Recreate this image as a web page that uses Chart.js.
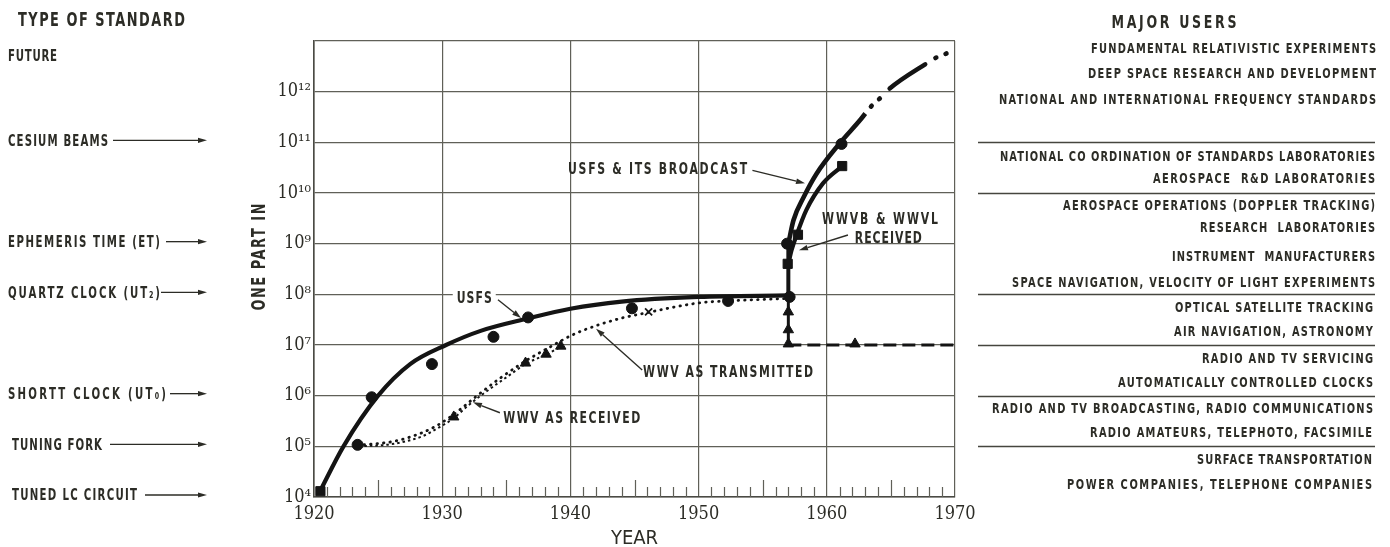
<!DOCTYPE html>
<html>
<head>
<meta charset="utf-8">
<script src="https://cdn.jsdelivr.net/npm/chart.js@4.4.1/dist/chart.umd.min.js"></script>
<style>
  html, body { margin: 0; padding: 0; background: #ffffff; }
  #wrap { position: relative; width: 1390px; height: 547px; background: #ffffff; }
  canvas { display: block; }
</style>
</head>
<body>
<div id="wrap"><canvas id="c" width="1390" height="547"></canvas></div>
<script>
// ---------------- DATA ----------------
const xTickValues = [1920, 1930, 1940, 1950, 1960, 1970];
const xTickLabels = ['1920', '1930', '1940', '1950', '1960', '1970'];
const yTickValues = [1e4, 1e5, 1e6, 1e7, 1e8, 1e9, 1e10, 1e11, 1e12, 1e13];
const yTickLabels = ['10⁴', '10⁵', '10⁶', '10⁷', '10⁸', '10⁹', '10¹⁰', '10¹¹', '10¹²', ''];

// USFS (solid curve)
const usfsYears  = [1920.4, 1922.3, 1925.0, 1927.5, 1930.3, 1933.0, 1936.6, 1940.0, 1944.0, 1950.0, 1957.0];
const usfsValues = [1.2e4, 1.0e5, 1.0e6, 4.2e6, 1.0e7, 1.9e7, 3.3e7, 5.2e7, 7.2e7, 8.9e7, 9.5e7];
// USFS jump in 1957
const usfsJumpYears  = [1957.0, 1957.0];
const usfsJumpValues = [9.5e7, 1.0e9];
// USFS & its broadcast
const broadcastYears  = [1957.0, 1957.4, 1958.2, 1959.2, 1961.0, 1962.6, 1963.0];
const broadcastValues = [1.0e9, 2.9e9, 8.3e9, 2.4e10, 9.5e10, 2.75e11, 3.7e11];
// Future projection
const futureYears  = [1963.0, 1963.45, 1964.1, 1964.9, 1967.7, 1968.6, 1969.4];
const futureValues = [3.7e11, 5.1e11, 7.2e11, 1.15e12, 3.5e12, 4.8e12, 5.75e12];
// WWVB & WWVL received
const wwvbYears  = [1957.0, 1957.25, 1957.65, 1958.4, 1959.7, 1961.2];
const wwvbValues = [4.0e8, 7.4e8, 1.5e9, 4.6e9, 1.55e10, 3.4e10];
// WWV as transmitted (dotted)
const transmittedYears  = [1923.4, 1926.2, 1928.3, 1929.5, 1930.5, 1931.5, 1932.5, 1934.5, 1936.6, 1938.4, 1940.2, 1942.1, 1944.0, 1945.5, 1950.1, 1952.3, 1957.0];
const transmittedValues = [1.05e5, 1.25e5, 1.8e5, 2.5e5, 3.6e5, 5.6e5, 9.0e5, 2.2e6, 5.0e6, 9.1e6, 1.6e7, 2.45e7, 3.4e7, 4.1e7, 6.8e7, 7.4e7, 8.3e7];
// WWV as received (short dashes)
const receivedYears  = [1923.5, 1926.0, 1928.5, 1929.8, 1930.9, 1932.0, 1933.0, 1935.0, 1936.5, 1938.1, 1939.3];
const receivedValues = [1.0e5, 1.1e5, 1.6e5, 2.4e5, 3.6e5, 6.3e5, 1.0e6, 2.3e6, 4.2e6, 6.5e6, 9.3e6];
// WWV as received after 1957
const receivedStepYears  = [1957.0, 1957.0];
const receivedStepValues = [1.0e7, 9.0e7];
const receivedLevelYears  = [1957.0, 1970.0];
const receivedLevelValues = [1.0e7, 1.0e7];

// Marker points
const circleYears  = [1923.4, 1924.5, 1929.2, 1934.0, 1936.7, 1944.8, 1952.3, 1957.1, 1956.9, 1961.15];
const circleValues = [1.07e5, 9.3e5, 4.2e6, 1.45e7, 3.5e7, 5.3e7, 7.4e7, 8.9e7, 1.0e9, 9.3e10];
const squareYears  = [1920.5, 1956.95, 1957.75, 1961.2];
const squareValues = [1.3e4, 4.0e8, 1.5e9, 3.4e10];
const triangleYears  = [1930.9, 1936.5, 1938.1, 1939.25, 1957.0, 1957.0, 1957.0, 1962.2];
const triangleValues = [3.8e5, 4.4e6, 6.6e6, 9.5e6, 1.05e7, 2.0e7, 4.5e7, 1.05e7];
const crossYears  = [1946.1];
const crossValues = [4.5e7];

// ---------------- STYLE ----------------
const INK = '#2c2c26';
const LINE = '#141414';
const GRID = '#606058';
const SANS = "'DejaVu Sans', 'Liberation Sans', sans-serif";
const COND = "'DejaVu Sans Condensed', 'Liberation Sans Narrow', 'Roboto Condensed', 'DejaVu Sans', sans-serif";
const SERIF = "'DejaVu Serif Condensed', 'Liberation Serif', 'DejaVu Serif', serif";
const SX = 0.68;

const pts = (xs, ys) => xs.map((x, i) => ({ x: x, y: ys[i] }));

function lineSet(label, xs, ys, opts) {
  return Object.assign({
    label: label,
    data: pts(xs, ys),
    showLine: true,
    borderColor: LINE,
    backgroundColor: LINE,
    borderWidth: 4,
    pointRadius: 0,
    pointHoverRadius: 0,
    fill: false,
    cubicInterpolationMode: 'monotone',
    order: 2
  }, opts || {});
}
function markerSet(label, xs, ys, style, radius, opts) {
  return Object.assign({
    label: label,
    data: pts(xs, ys),
    showLine: false,
    pointStyle: style,
    pointRadius: radius,
    pointHoverRadius: radius,
    backgroundColor: LINE,
    borderColor: LINE,
    borderWidth: 1,
    clip: false,
    order: 0
  }, opts || {});
}

// ---------------- TEXT HELPERS ----------------
function fitText(ctx, str, x, y, size, width, align, rotate) {
  ctx.save();
  ctx.font = 'bold ' + size + 'px ' + SANS;
  ctx.fillStyle = INK;
  ctx.textBaseline = 'alphabetic';
  ctx.textAlign = 'left';
  const hasLS = ('letterSpacing' in ctx);
  if (hasLS) ctx.letterSpacing = '0px';
  const nat = ctx.measureText(str).width * SX;
  const n = Array.from(str).length;
  const gap = n > 1 ? (width - nat) / (n - 1) : 0;
  const off = align === 'right' ? -width : (align === 'center' ? -width / 2 : 0);
  ctx.translate(x, y);
  if (rotate) ctx.rotate(rotate);
  ctx.translate(off, size * 0.365);
  ctx.scale(SX, 1);
  if (hasLS) {
    ctx.letterSpacing = (gap / SX) + 'px';
    ctx.fillText(str, 0, 0);
  } else {
    ctx.fillText(str, 0, 0, width / SX);
  }
  ctx.restore();
}
function arrow(ctx, x0, y0, x1, y1, head, half, lw) {
  ctx.save();
  ctx.strokeStyle = INK;
  ctx.fillStyle = INK;
  ctx.lineWidth = lw || 1.3;
  const ang = Math.atan2(y1 - y0, x1 - x0);
  const bx = x1 - Math.cos(ang) * head, by = y1 - Math.sin(ang) * head;
  ctx.beginPath();
  ctx.moveTo(x0, y0);
  ctx.lineTo(bx, by);
  ctx.stroke();
  ctx.beginPath();
  ctx.moveTo(x1, y1);
  ctx.lineTo(bx - Math.sin(ang) * half, by + Math.cos(ang) * half);
  ctx.lineTo(bx + Math.sin(ang) * half, by - Math.cos(ang) * half);
  ctx.closePath();
  ctx.fill();
  ctx.restore();
}

// ---------------- ANNOTATION LAYOUT ----------------
const leftItems = [
  { t: 'CESIUM BEAMS', v: 1e11, x: 8, w: 100, a0: 113 },
  { t: 'EPHEMERIS TIME (ET)', v: 1e9, x: 8, w: 152, a0: 166 },
  { t: 'QUARTZ CLOCK (UT₂)', v: 1e8, x: 8, w: 152, a0: 161 },
  { t: 'SHORTT CLOCK (UT₀)', v: 1e6, x: 8, w: 158, a0: 170 },
  { t: 'TUNING FORK', v: 1e5, x: 12, w: 90, a0: 110 },
  { t: 'TUNED LC CIRCUIT', v: 1e4, x: 12, w: 125, a0: 145 }
];
const rightItems = [
  { y: 48,  r: 1376, w: 285, t: 'FUNDAMENTAL RELATIVISTIC EXPERIMENTS' },
  { y: 72.5, r: 1376, w: 288, t: 'DEEP SPACE RESEARCH AND DEVELOPMENT' },
  { y: 99,  r: 1376, w: 377, t: 'NATIONAL AND INTERNATIONAL FREQUENCY STANDARDS' },
  { y: 156, r: 1375, w: 375, t: 'NATIONAL CO ORDINATION OF STANDARDS LABORATORIES' },
  { y: 178, r: 1375, w: 222, t: 'AEROSPACE  R&D LABORATORIES' },
  { y: 205, r: 1375, w: 312, t: 'AEROSPACE OPERATIONS (DOPPLER TRACKING)' },
  { y: 227, r: 1375, w: 175, t: 'RESEARCH  LABORATORIES' },
  { y: 256, r: 1375, w: 203, t: 'INSTRUMENT  MANUFACTURERS' },
  { y: 282, r: 1375, w: 363, t: 'SPACE NAVIGATION, VELOCITY OF LIGHT EXPERIMENTS' },
  { y: 307, r: 1373, w: 198, t: 'OPTICAL SATELLITE TRACKING' },
  { y: 331, r: 1373, w: 199, t: 'AIR NAVIGATION, ASTRONOMY' },
  { y: 358, r: 1373, w: 171, t: 'RADIO AND TV SERVICING' },
  { y: 382, r: 1373, w: 255, t: 'AUTOMATICALLY CONTROLLED CLOCKS' },
  { y: 408, r: 1373, w: 381, t: 'RADIO AND TV BROADCASTING, RADIO COMMUNICATIONS' },
  { y: 432, r: 1372, w: 282, t: 'RADIO AMATEURS, TELEPHOTO, FACSIMILE' },
  { y: 459, r: 1372, w: 175, t: 'SURFACE TRANSPORTATION' },
  { y: 484, r: 1372, w: 305, t: 'POWER COMPANIES, TELEPHONE COMPANIES' }
];
const separatorValues = [1e11, 1e10, 1e8, 1e7, 1e6, 1e5];

const chartLabels = [
  { t: 'USFS', x: 1932.5, y: 8.7e7, w: 35, bg: true, from: [1934.35, 7.8e7], to: [1936.15, 3.4e7] },
  { t: 'USFS & ITS BROADCAST', x: 1946.8, y: 3.1e10, w: 179, from: [1954.2, 2.8e10], to: [1958.3, 1.55e10] },
  { t: 'WWVB & WWVL', x: 1964.15, y: 3.16e9, w: 116 },
  { t: 'RECEIVED', x: 1964.8, y: 1.35e9, w: 67, from: [1961.65, 1.48e9], to: [1957.83, 7.4e8] },
  { t: 'WWV AS TRANSMITTED', x: 1952.3, y: 3.1e6, w: 170, from: [1945.6, 3.2e6], to: [1942.0, 2.1e7] },
  { t: 'WWV AS RECEIVED', x: 1940.1, y: 3.8e5, w: 137, from: [1934.5, 4.6e5], to: [1932.4, 7.4e5] }
];

const annotationPlugin = {
  id: 'annotations',
  beforeDatasetsDraw(chart) {
    const ctx = chart.ctx, xs = chart.scales.x, area = chart.chartArea;
    ctx.save();
    ctx.strokeStyle = GRID;
    ctx.lineWidth = 1.2;
    for (let yr = 1921; yr < 1970; yr++) {
      if (yr % 10 === 0) continue;
      const len = (yr % 5 === 0) ? 17 : 10;
      const px = Math.round(xs.getPixelForValue(yr)) + 0.5;
      ctx.beginPath();
      ctx.moveTo(px, area.bottom);
      ctx.lineTo(px, area.bottom - len);
      ctx.stroke();
    }
    ctx.restore();
  },
  afterDraw(chart) {
    const ctx = chart.ctx, xs = chart.scales.x, ys = chart.scales.y;
    const px = v => xs.getPixelForValue(v), py = v => ys.getPixelForValue(v);

    // Y axis title
    fitText(ctx, 'ONE PART IN', 258, 257, 19, 107, 'center', -Math.PI / 2);

    // Left panel
    fitText(ctx, 'TYPE OF STANDARD', 18, 19.5, 19, 167, 'left');
    fitText(ctx, 'FUTURE', 8, py(1e12) - 36, 15, 49, 'left');
    leftItems.forEach(it => {
      const y = py(it.v) - 2;
      fitText(ctx, it.t, it.x, y, 15, it.w, 'left');
      arrow(ctx, it.a0, y, 207, y, 9, 2.6, 1.3);
    });

    // Right panel
    fitText(ctx, 'MAJOR USERS', 1174, 21.5, 18.5, 125, 'center');
    rightItems.forEach(it => fitText(ctx, it.t, it.r, it.y, 14.5, it.w, 'right'));
    ctx.save();
    ctx.strokeStyle = '#45453f';
    ctx.lineWidth = 1.5;
    separatorValues.forEach(v => {
      const y = Math.round(py(v)) + 0.5;
      ctx.beginPath();
      ctx.moveTo(978, y);
      ctx.lineTo(1375, y);
      ctx.stroke();
    });
    ctx.restore();

    // Labels inside the plot
    chartLabels.forEach(l => {
      const cx = px(l.x), cy = py(l.y);
      if (l.bg) {
        ctx.save();
        ctx.fillStyle = '#ffffff';
        ctx.fillRect(cx - l.w / 2 - 4, cy - 8, l.w + 8, 16);
        ctx.restore();
      }
      fitText(ctx, l.t, cx, cy, 16, l.w, 'center');
      if (l.from) {
        arrow(ctx, px(l.from[0]), py(l.from[1]), px(l.to[0]), py(l.to[1]), 9, 2.8, 1.4);
      }
    });
  }
};

// ---------------- CHART ----------------
const ctx = document.getElementById('c').getContext('2d');
new Chart(ctx, {
  type: 'scatter',
  data: {
    datasets: [
      markerSet('USFS points', circleYears, circleValues, 'circle', 5.5),
      markerSet('Squares', squareYears, squareValues, 'rect', 6.5),
      markerSet('WWV received points', triangleYears, triangleValues, 'triangle', 6),
      markerSet('Cross', crossYears, crossValues, 'crossRot', 5, { borderWidth: 1.8, backgroundColor: 'transparent' }),
      lineSet('USFS', usfsYears, usfsValues, { borderWidth: 4.2 }),
      lineSet('USFS 1957', usfsJumpYears, usfsJumpValues, { borderWidth: 4, cubicInterpolationMode: 'default', tension: 0 }),
      lineSet('USFS & its broadcast', broadcastYears, broadcastValues, { borderWidth: 4.6 }),
      lineSet('Future', futureYears, futureValues, {
        borderWidth: 4.6, borderCapStyle: 'round',
        borderDash: [1, 10, 1, 14, 43, 12], borderDashOffset: 72
      }),
      lineSet('WWVB & WWVL received', wwvbYears, wwvbValues, { borderWidth: 4.2 }),
      lineSet('WWV as transmitted', transmittedYears, transmittedValues, {
        borderWidth: 2.8, borderCapStyle: 'round', borderDash: [0.5, 6]
      }),
      lineSet('WWV as received', receivedYears, receivedValues, {
        borderWidth: 2, borderDash: [2.5, 3]
      }),
      lineSet('WWV received 1957', receivedStepYears, receivedStepValues, {
        borderWidth: 3, cubicInterpolationMode: 'default', tension: 0
      }),
      lineSet('WWV received level', receivedLevelYears, receivedLevelValues, {
        borderWidth: 2.8, borderDash: [13, 6], cubicInterpolationMode: 'default', tension: 0
      })
    ]
  },
  options: {
    responsive: false,
    animation: false,
    devicePixelRatio: 1,
    layout: { padding: { left: 248, top: 41, right: 435, bottom: 0 } },
    plugins: {
      legend: { display: false },
      tooltip: { enabled: false }
    },
    scales: {
      x: {
        type: 'linear',
        position: 'bottom',
        min: 1920,
        max: 1970,
        afterFit: s => { s.height = 50; },
        afterBuildTicks: s => { s.ticks = xTickValues.map(v => ({ value: v })); },
        ticks: {
          autoSkip: false,
          maxRotation: 0,
          color: INK,
          padding: 7,
          font: { family: SERIF, size: 18 },
          callback: v => { const i = xTickValues.indexOf(v); return i >= 0 ? xTickLabels[i] : ''; }
        },
        grid: { color: GRID, lineWidth: 1.2, drawTicks: false },
        border: { color: '#4a4a44', width: 1.6 },
        title: {
          display: true, text: 'YEAR', color: INK,
          font: { family: COND, size: 20, lineHeight: 0.8 }, padding: 0
        }
      },
      y: {
        type: 'logarithmic',
        position: 'left',
        min: 1e4,
        max: 1e13,
        afterFit: s => { s.width = 66; },
        afterBuildTicks: s => { s.ticks = yTickValues.map(v => ({ value: v })); },
        ticks: {
          autoSkip: false,
          color: INK,
          padding: 3,
          font: { family: SERIF, size: 18 },
          callback: v => { const i = yTickValues.indexOf(v); return i >= 0 ? yTickLabels[i] : ''; }
        },
        grid: { color: GRID, lineWidth: 1.2, drawTicks: false },
        border: { color: '#4a4a44', width: 1.6 },
        title: { display: false, text: 'ONE PART IN' }
      }
    }
  },
  plugins: [annotationPlugin]
});
</script>
</body>
</html>
